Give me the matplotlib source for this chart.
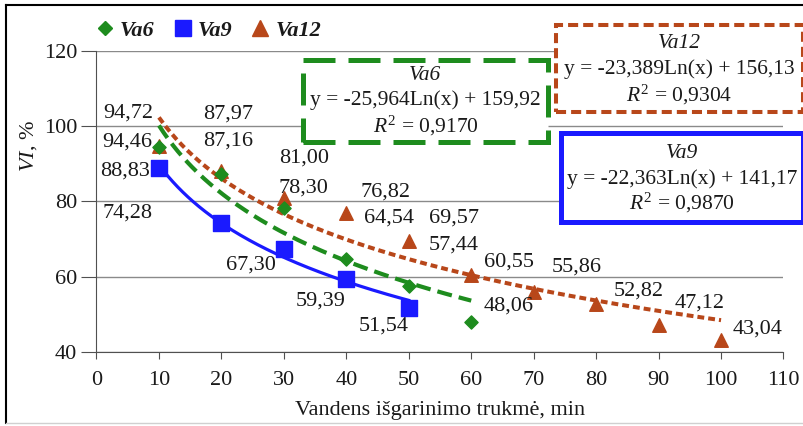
import numpy as np
import matplotlib.pyplot as plt
from matplotlib.lines import Line2D
from matplotlib.patches import Rectangle

plt.rcParams['font.family'] = ['Liberation Serif', 'DejaVu Serif']
plt.rcParams['mathtext.fontset'] = 'custom'
plt.rcParams['mathtext.rm'] = 'Liberation Serif'
plt.rcParams['mathtext.it'] = 'Liberation Serif:italic'

x6 = [10, 20, 30, 40, 50, 60]
va6 = [94.46, 87.16, 78.30, 64.54, 57.44, 48.06]
x9 = [10, 20, 30, 40, 50]
va9 = [88.83, 74.28, 67.30, 59.39, 51.54]
x12 = [10, 20, 30, 40, 50, 60, 70, 80, 90, 100]
va12 = [94.72, 87.97, 81.00, 76.82, 69.57, 60.55, 55.86, 52.82, 47.12, 43.04]

# log trend coefficients (a*Ln(x) + b) and R^2
fit6 = (-25.964, 159.92, 0.9170)
fit9 = (-22.363, 141.17, 0.9870)
fit12 = (-23.389, 156.13, 0.9304)

c6 = '#1e8c1e'
c9 = '#1a1aff'
c12 = '#b8471a'
W, H = 804, 426


def fmt(v, n=2):
    return f'{v:.{n}f}'.replace('.', ',')


fig = plt.figure(figsize=(W / 100, H / 100), dpi=100)
ax = fig.add_axes([0.120, 0.174, 0.8545, 0.707])

ax.set_xlim(0, 110)
ax.set_ylim(40, 120)
ax.set_xticks(range(0, 111, 10))
ax.set_yticks(range(40, 121, 20))
ax.yaxis.grid(True, color='#8a8a8a', lw=1)
ax.set_axisbelow(True)
for s in ['top', 'right']:
    ax.spines[s].set_visible(False)
for s in ['left', 'bottom']:
    ax.spines[s].set_color('#505050')
ax.tick_params(axis='both', color='#505050', labelsize=16, labelcolor='#1a1a1a')
ax.tick_params(axis='y', direction='out', length=11, pad=3)
ax.tick_params(axis='x', direction='out', length=5, pad=9)

# trend lines
for xs, (a, b, _), col, ls, lw in [
        (x6, fit6, c6, (0, (3.6, 1.7)), 3),
        (x9, fit9, c9, '-', 2.3),
        (x12, fit12, c12, (0, (1.7, 1.0)), 2.9)]:
    xx = np.linspace(xs[0], xs[-1], 200)
    ax.plot(xx, a * np.log(xx) + b, color=col, ls=ls, lw=lw, zorder=2)

ax.scatter(x12, va12, marker='^', s=95, color=c12, zorder=3)
ax.scatter(x6, va6, marker='D', s=45, color=c6, zorder=4)
ax.scatter(x9, va9, marker='s', s=120, color=c9, zorder=5)

# data label offsets (dx, dy) from each point to the label centre
off12 = [(-4.9, 8.6), (1.1, 15.3), (3.2, 10.6), (6.3, 5.7), (7.2, 6.0),
         (6.1, 3.35), (6.9, 6.7), (6.8, 3.4), (6.6, 5.9), (5.8, 3.1)]
off6 = [(-5.0, 1.3), (1.1, 8.9), (3.2, 5.3), (6.8, 11.1), (7.2, 11.0),
        (6.0, 4.1)]
off9 = [(-5.4, -0.7), (-15.0, 2.7), (-5.3, -4.2), (-4.1, -5.8), (-4.0, -4.6)]
for xs, ys, offs in [(x12, va12, off12), (x6, va6, off6), (x9, va9, off9)]:
    for xv, yv, (dx, dy) in zip(xs, ys, offs):
        ax.text(xv + dx, yv + dy, fmt(yv), ha='center', va='center',
                fontsize=16, color='#1a1a1a')

ax.set_xlabel('Vandens išgarinimo trukmė, min', fontsize=16, labelpad=8,
              color='#1a1a1a')
ax.set_ylabel('$VI$, %', fontsize=16, color='#1a1a1a')
ax.yaxis.set_label_coords(-0.084, 0.684)

# legend above the plot
handles = [
    Line2D([], [], ls='none', marker='D', ms=7, color=c6, label='Va6'),
    Line2D([], [], ls='none', marker='s', ms=11, color=c9, label='Va9'),
    Line2D([], [], ls='none', marker='^', ms=11, color=c12, label='Va12'),
]
fig.legend(handles=handles, loc='center left', bbox_to_anchor=(0.119, 0.928),
           ncols=3, frameon=False, handlelength=0.8, handletextpad=0.3,
           columnspacing=0.85, borderpad=0, borderaxespad=0,
           prop={'style': 'italic', 'weight': 'bold', 'size': 16},
           labelcolor='#1a1a1a')


# equation boxes (pixel layout -> figure fraction)
def eq_box(x0, y0, x1, y1, lines_y, name, fit, col, ls, lw):
    a, b, r2 = fit
    fig.add_artist(Rectangle((x0 / W, 1 - y1 / H), (x1 - x0) / W,
                             (y1 - y0) / H, transform=fig.transFigure,
                             fc='white', ec=col, lw=lw, ls=ls, zorder=6))
    cx = (x0 + x1) / 2 / W
    kw = dict(ha='center', va='center', fontsize=15.5, color='#1a1a1a',
              zorder=7)
    fig.text(cx, 1 - lines_y[0] / H, name, style='italic', **kw)
    fig.text(cx, 1 - lines_y[1] / H,
             f'y = {fmt(a, 3)}Ln(x) + {fmt(b)}', **kw)
    fig.text(cx, 1 - lines_y[2] / H, f'$R^2$ = {fmt(r2, 4)}', **kw)


eq_box(303, 60, 548, 142, (75, 100, 126), 'Va6', fit6, c6,
       (0, (6.4, 2.6)), 3.6)
eq_box(556, 25, 803, 112, (43, 69, 95), 'Va12', fit12, c12,
       (0, (2.5, 1.25)), 2.9)
eq_box(561, 133, 803, 222, (153, 179, 203), 'Va9', fit9, c9, '-', 3.6)

# outer frame lines
fig.add_artist(Line2D([0.007, 0.007], [0.007, 0.988], color='black', lw=1.5,
                      transform=fig.transFigure))
fig.add_artist(Line2D([0.007, 1.0], [0.988, 0.988], color='black', lw=1.5,
                      transform=fig.transFigure))
fig.add_artist(Line2D([0.007, 1.0], [0.007, 0.007], color='#d0d0d0', lw=1,
                      transform=fig.transFigure))

fig.savefig('out.png', dpi=100)
